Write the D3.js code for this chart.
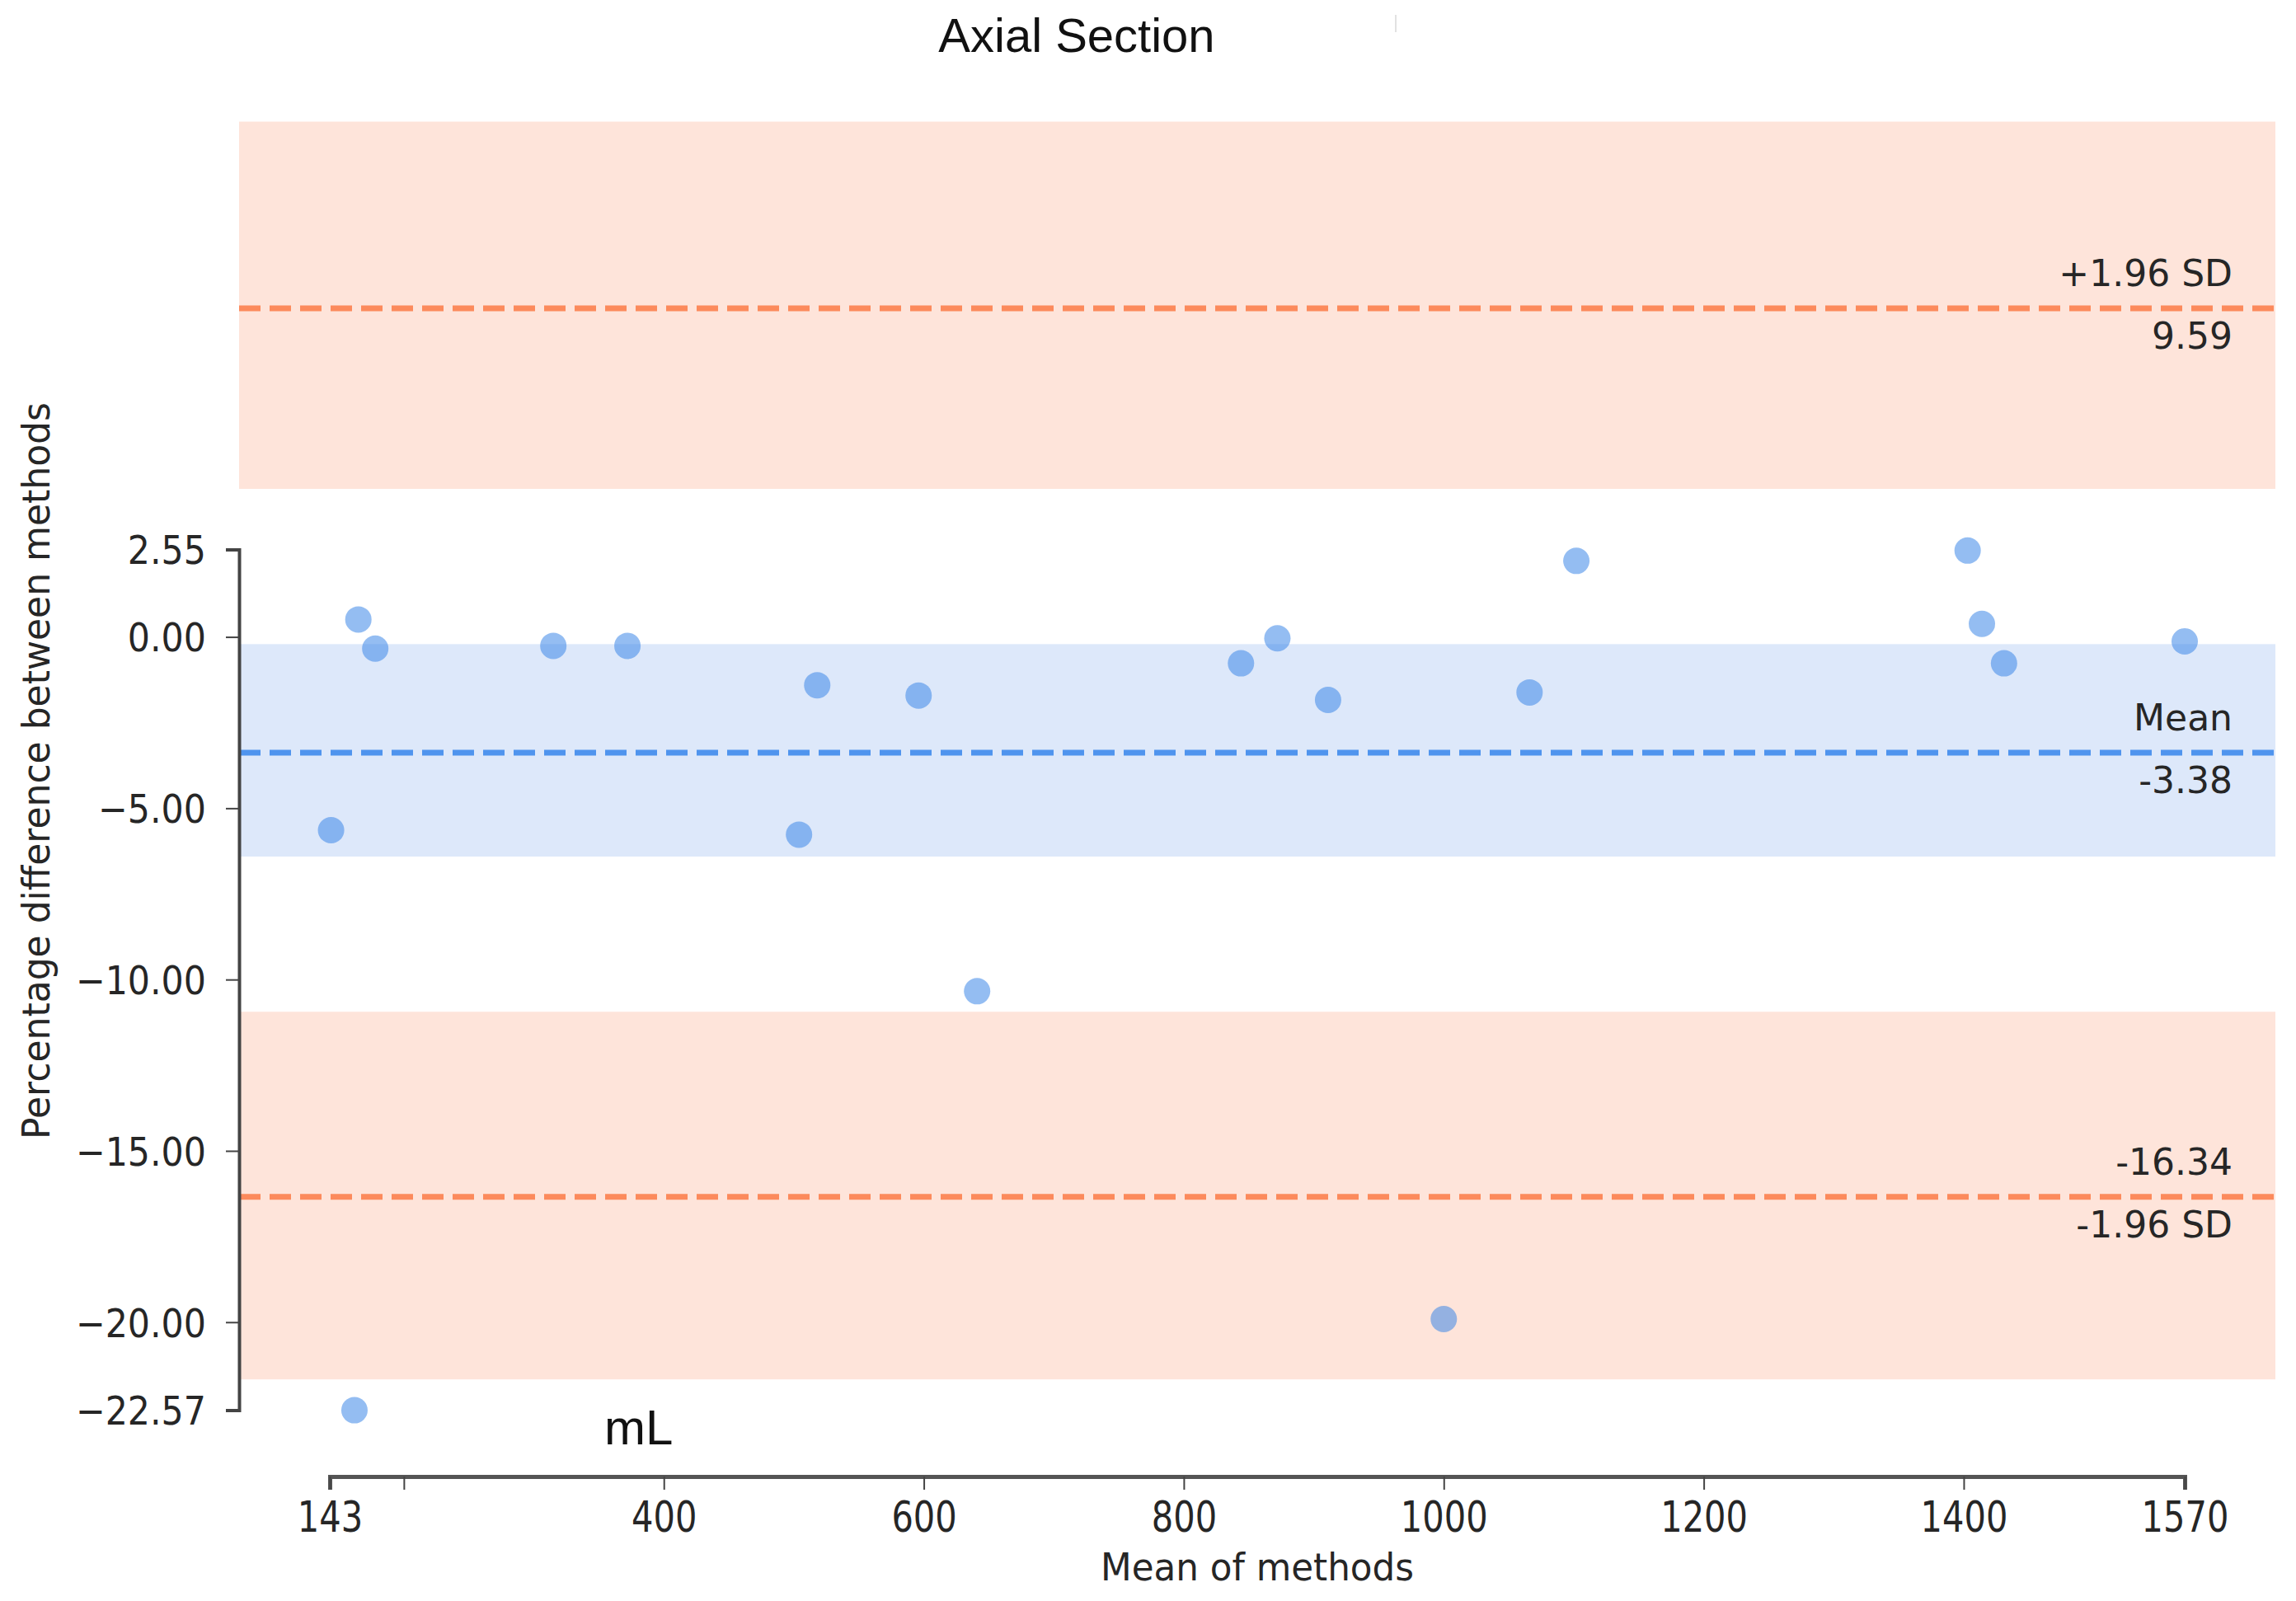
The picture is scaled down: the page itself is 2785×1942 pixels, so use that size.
<!DOCTYPE html>
<html lang="en">
<head>
<meta charset="utf-8">
<script src="https://d3js.org/d3.v7.min.js"></script>
<style type="text/css">
	body { margin: 0; background: #fff; }
	text { fill: #262626; }
</style>
</head>
<body>
<script type="text/javascript">
	// mean of methods (x) and percentage difference (y)
	var meanVals = [144, 165, 178, 162, 315, 372, 504, 518, 596, 641, 844, 872, 911, 1000, 1066, 1102, 1403, 1414, 1431, 1570];
	var diffVals = [-5.64, 0.51, -0.34, -22.57, -0.26, -0.26, -5.77, -1.41, -1.71, -10.34, -0.77, -0.04, -1.84, -19.91, -1.62, 2.22, 2.52, 0.38, -0.77, -0.13];

	var xTicks = [143, 200, 400, 600, 800, 1000, 1200, 1400, 1570];
	var xTickLabels = ["143", "", "400", "600", "800", "1000", "1200", "1400", "1570"];
	var yTicks = [2.55, 0, -5, -10, -15, -20, -22.57];

	// limits of agreement and their confidence bands
	var limitNames = ["+1.96 SD", "Mean", "-1.96 SD"];
	var limitVals = [9.59, -3.38, -16.34];
	var bandLow = [4.32, -6.41, -21.67];
	var bandHigh = [15.04, -0.21, -10.94];

	var W = 2785, H = 1942;
	var svg = d3.select("body").append("svg")
		.attr("width", W).attr("height", H)
		.style("font-family", "'DejaVu Sans', sans-serif");

	var x = d3.scaleLinear().domain([143, 1570]).range([400, 2650]);
	var y = d3.scaleLinear().domain([2.55, -22.57]).range([666.6, 1710.6]);
	var left = 290, right = 2760;

	// shaded bands
	svg.selectAll("rect.band")
		.data(limitVals)
		.enter().append("rect")
		.attr("class", "band")
		.attr("x", left)
		.attr("width", right - left)
		.attr("y", function(d, i) { return y(bandHigh[i]); })
		.attr("height", function(d, i) { return y(bandLow[i]) - y(bandHigh[i]); })
		.style("fill", function(d, i) { return i == 1 ? "#dde8fa" : "#fee4da"; });

	// dashed lines
	svg.selectAll("line.limit")
		.data(limitVals)
		.enter().append("line")
		.attr("class", "limit")
		.attr("x1", left).attr("x2", right)
		.attr("y1", function(d) { return y(d); })
		.attr("y2", function(d) { return y(d); })
		.style("stroke", function(d, i) { return i == 1 ? "#4f94ee" : "#fc8a5c"; })
		.style("stroke-width", 7)
		.style("stroke-dasharray", "26,11");

	// labels on the right: name above, value below (lower one swapped)
	limitVals.forEach(function(v, i) {
		var top = i == 2 ? v.toFixed(2) : limitNames[i];
		var bottom = i == 2 ? limitNames[i] : v.toFixed(2);
		svg.append("text").attr("x", 2708).attr("y", y(v) - 27)
			.attr("text-anchor", "end").style("font-size", "44px").text(top);
		svg.append("text").attr("x", 2708).attr("y", y(v) + 49)
			.attr("text-anchor", "end").style("font-size", "44px").text(bottom);
	});

	// points
	svg.selectAll("circle")
		.data(meanVals)
		.enter().append("circle")
		.attr("cx", function(d) { return x(d); })
		.attr("cy", function(d, i) { return y(diffVals[i]); })
		.attr("r", 16)
		.style("fill", "#3c86e8")
		.style("fill-opacity", 0.55);

	// y axis
	var yAxis = svg.append("g")
		.attr("transform", "translate(" + left + ",0)")
		.call(d3.axisLeft(y).tickValues(yTicks).tickSize(16).tickFormat(function(d) {
			return d3.format(".2f")(d).replace("-", "\u2212");
		}));
	yAxis.select(".domain").style("stroke", "#444").style("stroke-width", 4);
	yAxis.selectAll(".tick line").style("stroke", "#444").style("stroke-width", 2);
	yAxis.selectAll(".tick text")
		.attr("x", -45).attr("dy", "0.36em")
		.attr("transform", "scale(0.89,1)")
		.style("font-size", "48px").style("font-family", "'DejaVu Sans', sans-serif")
		.style("fill", "#262626");

	// x axis
	var xAxis = svg.append("g")
		.attr("transform", "translate(0,1791)")
		.call(d3.axisBottom(x).tickValues(xTicks).tickSize(16).tickFormat(function(d, i) { return xTickLabels[i]; }));
	xAxis.select(".domain").style("stroke", "#555").style("stroke-width", 5);
	xAxis.selectAll(".tick line").style("stroke", "#444").style("stroke-width", 2);
	xAxis.selectAll(".tick text")
		.attr("y", 67).attr("dy", "0")
		.attr("transform", "scale(0.8,1)")
		.style("font-size", "52px").style("font-family", "'DejaVu Sans', sans-serif")
		.style("fill", "#262626");

	// axis titles
	svg.append("text")
		.attr("x", 1525).attr("y", 1917)
		.attr("text-anchor", "middle")
		.attr("textLength", 380).attr("lengthAdjust", "spacingAndGlyphs")
		.style("font-size", "46px")
		.text("Mean of methods");

	svg.append("text")
		.attr("transform", "translate(60,935) rotate(-90)")
		.attr("text-anchor", "middle")
		.attr("textLength", 894).attr("lengthAdjust", "spacingAndGlyphs")
		.style("font-size", "47px")
		.text("Percentage difference between methods");

	// title and unit
	svg.append("text")
		.attr("x", 1306).attr("y", 63)
		.attr("text-anchor", "middle")
		.style("font-family", "'Liberation Sans', Arial, sans-serif")
		.style("font-size", "58px")
		.style("fill", "#111")
		.text("Axial Section");

	svg.append("text")
		.attr("x", 733).attr("y", 1752)
		.style("font-family", "'Liberation Sans', Arial, sans-serif")
		.style("font-size", "60px")
		.style("fill", "#111")
		.text("mL");

	// faint stray mark beside the title
	svg.append("line")
		.attr("x1", 1693).attr("x2", 1693).attr("y1", 18).attr("y2", 39)
		.style("stroke", "#e2e2e2").style("stroke-width", 2);
</script>
</body>
</html>
